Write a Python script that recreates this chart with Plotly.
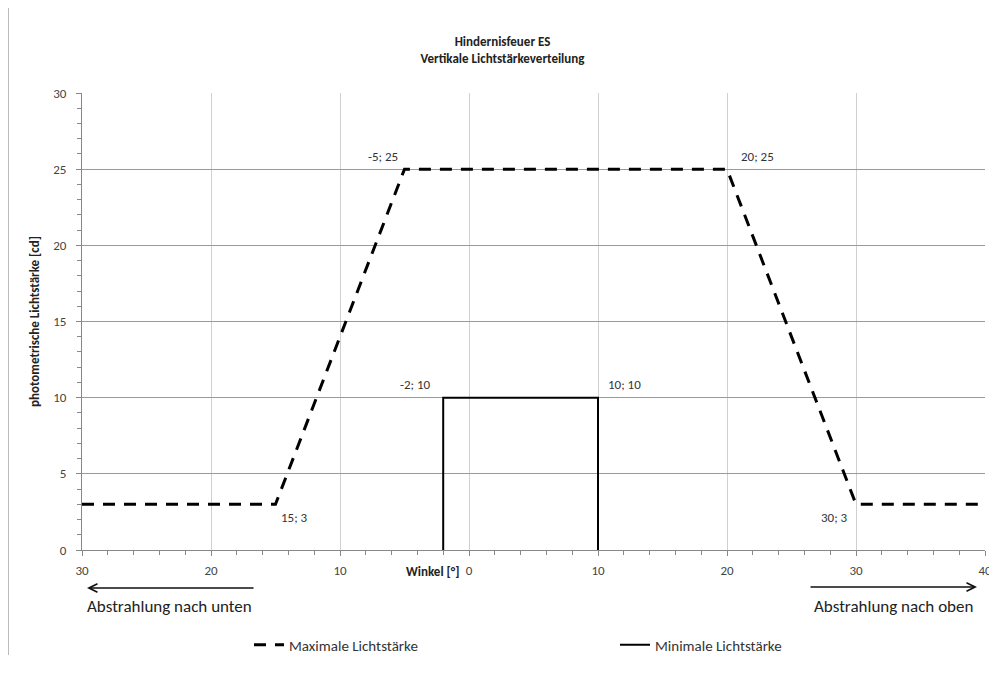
import plotly.graph_objects as go

# Data
max_x = [-30, -15, -5, 20, 30, 40]
max_y = [3, 3, 25, 25, 3, 3]
min_x = [-2, -2, 10, 10]
min_y = [0, 10, 10, 0]

x_tickvals = [-30, -20, -10, 0, 10, 20, 30, 40]
x_ticktext = ["30", "20", "10", "0", "10", "20", "30", "40"]
y_tickvals = [0, 5, 10, 15, 20, 25, 30]

# point labels: (x, y, text, xanchor, xshift, yshift)
labels = [
    (-5, 25, "-5; 25", "right", -5, 13),
    (20, 25, "20; 25", "left", 12, 13),
    (-15, 3, "15; 3", "left", 3, -13),
    (30, 3, "30; 3", "right", -6, -13),
    (-2, 10, "-2; 10", "right", -10, 13),
    (10, 10, "10; 10", "left", 8, 13),
]

FONT = "Carlito, Liberation Sans Narrow, Liberation Sans, Arial"

OFF = 8  # page body margin of the browser
W, H = 997 - OFF, 675 - OFF
# plot area in screen pixels: left 82, right 985, top 93, bottom 550
L, T = 82 - OFF, 93 - OFF
R = W - (985 - OFF)
B = H - (550 - OFF)
PW, PH = W - L - R, H - T - B


def px(x):
    return (x - OFF - L) / PW


def py(y):
    return (H - B - (y - OFF)) / PH


fig = go.Figure()
fig.add_trace(go.Scatter(
    x=max_x, y=max_y, mode="lines", name="Maximale Lichtstärke",
    line=dict(color="black", width=3, dash="12px,9px"), legend="legend",
))
fig.add_trace(go.Scatter(
    x=min_x, y=min_y, mode="lines", name="Minimale Lichtstärke",
    line=dict(color="black", width=2), legend="legend2",
))

for (lx, ly, t, xa, xs, ys) in labels:
    fig.add_annotation(x=lx, y=ly, xref="x", yref="y", text=t, showarrow=False,
                       xanchor=xa, yanchor="middle", xshift=xs, yshift=ys,
                       font=dict(size=13, color="#333333", family=FONT))

fig.update_layout(
    title=dict(text="<b>Hindernisfeuer ES<br>Vertikale Lichtstärkeverteilung</b>",
               x=0.5, xanchor="center", y=1 - (46 - OFF) / H, yanchor="middle",
               font=dict(size=13, color="#222222", family=FONT)),
)

# arrows and direction texts
fig.add_annotation(x=px(87), y=py(588), xref="paper", yref="paper",
                   ax=168, ay=0, axref="pixel", ayref="pixel", text="", showarrow=True,
                   arrowhead=5, arrowsize=1.3, arrowwidth=1.3, arrowcolor="#111111")
fig.add_annotation(x=px(977), y=py(587), xref="paper", yref="paper",
                   ax=-168, ay=0, axref="pixel", ayref="pixel", text="", showarrow=True,
                   arrowhead=5, arrowsize=1.3, arrowwidth=1.3, arrowcolor="#111111")
fig.add_annotation(x=px(85), y=py(606), xref="paper", yref="paper", text="Abstrahlung nach unten",
                   showarrow=False, xanchor="left", yanchor="middle",
                   font=dict(size=17, color="#222222", family=FONT))
fig.add_annotation(x=px(975), y=py(606), xref="paper", yref="paper", text="Abstrahlung nach oben",
                   showarrow=False, xanchor="right", yanchor="middle",
                   font=dict(size=17, color="#222222", family=FONT))

# axis title for x (offset left of centre as in reference)
fig.add_annotation(x=px(432), y=py(571), xref="paper", yref="paper", text="<b>Winkel [°]</b>",
                   showarrow=False, xanchor="center", yanchor="middle",
                   font=dict(size=13, color="#222222", family=FONT))

fig.update_xaxes(
    range=[-30, 40], tickvals=x_tickvals, ticktext=x_ticktext,
    showgrid=True, gridcolor="#d0d0d0", gridwidth=1,
    showline=True, linecolor="#888888", linewidth=1,
    ticks="outside", ticklen=5, tickcolor="#888888", ticklabelstandoff=3,
    minor=dict(dtick=2, ticks="outside", ticklen=4, tickcolor="#888888", showgrid=False),
    tickfont=dict(size=13, color="#444444", family=FONT),
    zeroline=False, fixedrange=True, automargin=False,
)
fig.update_yaxes(
    range=[0, 30], tickvals=y_tickvals,
    showgrid=True, gridcolor="#9a9a9a", gridwidth=1,
    showline=True, linecolor="#888888", linewidth=1,
    ticks="outside", ticklen=5, tickcolor="#888888", ticklabelstandoff=7,
    minor=dict(dtick=1, ticks="outside", ticklen=4, tickcolor="#888888", showgrid=False),
    tickfont=dict(size=13, color="#444444", family=FONT),
    title=dict(text="<b>photometrische Lichtstärke [cd]</b>", standoff=10,
               font=dict(size=13, color="#222222", family=FONT)),
    zeroline=False, fixedrange=True, automargin=False,
)

fig.update_layout(
    width=W, height=H,
    margin=dict(l=L, r=R, t=T, b=B),
    paper_bgcolor="white", plot_bgcolor="white",
    showlegend=True,
    legend=dict(orientation="h", x=px(249), xanchor="left", y=py(645), yanchor="middle",
                font=dict(size=15, color="#333333", family=FONT), bgcolor="rgba(0,0,0,0)"),
    legend2=dict(orientation="h", x=px(615), xanchor="left", y=py(645), yanchor="middle",
                 font=dict(size=15, color="#333333", family=FONT), bgcolor="rgba(0,0,0,0)"),
)

# left border line of the chart area
fig.add_shape(type="line", xref="paper", yref="paper", x0=px(8.5), x1=px(8.5),
              y0=py(655), y1=py(8), line=dict(color="#bbbbbb", width=1))

fig.write_html("out.html")
